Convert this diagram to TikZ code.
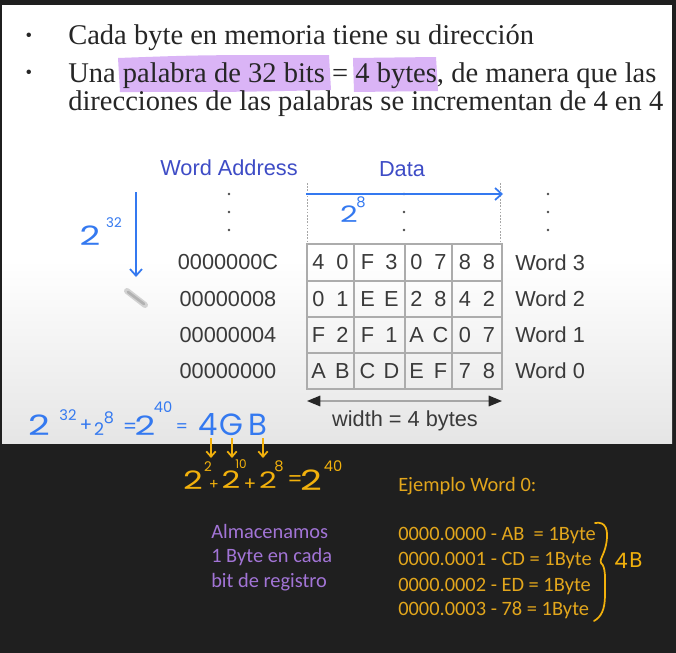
\documentclass[tikz,border=0pt]{standalone}
\usepackage{fontspec}
\setmainfont{Liberation Serif}
\newfontfamily\arialf{Liberation Sans}
\newfontfamily\calf{Carlito}
\newfontfamily\handf{Poppins}
\usetikzlibrary{arrows.meta,calc}
\definecolor{darkbg}{HTML}{1F1F1F}
\definecolor{hl}{HTML}{DAB4F6}
\definecolor{slidetext}{HTML}{262626}
\definecolor{tabtext}{HTML}{3A3A3A}
\definecolor{headblue}{HTML}{3E4CC6}
\definecolor{blueink}{HTML}{3479F0}
\definecolor{orink}{HTML}{F2B10C}
\definecolor{ortext}{HTML}{E2A61C}
\definecolor{purtext}{HTML}{A274D6}
\newcommand\fsz[1]{\fontsize{#1}{#1}\selectfont}
\tikzset{
  serif/.style={font=\fsz{21.4}, text=slidetext, inner sep=0, anchor=base west},
  sans/.style={font=\arialf\fsz{16.3}, text=tabtext, inner sep=0},
  head/.style={font=\arialf\fsz{16.3}, text=headblue, inner sep=0},
  grid/.style={draw=gray!65, line width=0.9},
  dotline/.style={draw=gray!70, line width=0.6, dash pattern=on 1.2pt off 1.2pt},
  dotmark/.style={circle, fill=black!70, inner sep=0, minimum size=2.2pt},
  hwb/.style={text=blueink, inner sep=0},
  hwo/.style={text=orink, inner sep=0},
  wide/.style={xscale=1.35},
  bink/.style={draw=blueink, line width=1.3, -{Straight Barb[length=5pt,width=9pt]}},
  oink/.style={draw=orink, line width=1.3, -{Straight Barb[length=4pt,width=7pt]}},
  caltext/.style={font=\calf\fsz{15.3}, inner sep=0, anchor=base west},
}
\newcommand\cellab[5]{\node[sans] (#1) at (#2,#3) {\makebox[18pt]{#4}\makebox[18pt]{#5}};}
\begin{document}
\begin{tikzpicture}[x=0.75pt,y=-0.75pt]
\useasboundingbox (0,0) rectangle (676,653);
\fill[darkbg] (0,0) rectangle (676,653);
\fill[white] (2,5) rectangle (672,261);
\shade[top color=white,bottom color=black!10] (2,260) rectangle (672,443);

% highlights
\fill[hl] (118,58) .. controls (200,55) .. (329,55) -- (331,90) .. controls (240,92) .. (120,92) -- cycle;
\fill[hl] (353,58) -- (436,57) -- (438,91) -- (354,92) -- cycle;

% slide text
\node[font=\fsz{14}, text=slidetext, inner sep=0] (bul1) at (29,37) {•};
\node[font=\fsz{14}, text=slidetext, inner sep=0] (bul2) at (29,74) {•};
\node[serif] (line1) at (68,45) {Cada byte en memoria tiene su dirección};
\node[serif] (line2) at (68,82) {Una palabra de 32 bits = 4 bytes, de manera que las};
\node[serif] (line3) at (68,110) {direcciones de las palabras se incrementan de 4 en 4};

% headers
\node[head] (wa) at (229,168) {Word Address};
\node[head] (data) at (402,169) {Data};

% dots
\foreach \x/\n in {229/a,404/d,548/r}{
  \foreach \y/\m in {194/1,212/2,230/3}{
    \node[dotmark] (dot\n\m) at (\x,\y) {};
  }
}
\draw[dotline] (307,183) -- (307,244);
\draw[dotline] (500,183) -- (500,244);

% table
\draw[grid] (307,244) rectangle (502,389);
\foreach \y in {281,317,353} \draw[grid] (307,\y) -- (502,\y);
\foreach \x in {354,405,452} \draw[grid] (\x,244) -- (\x,389);

\cellab{c30}{330.5}{262.5}{4}{0}
\cellab{c31}{379.5}{262.5}{F}{3}
\cellab{c32}{428.5}{262.5}{0}{7}
\cellab{c33}{477}{262.5}{8}{8}
\cellab{c20}{330.5}{299}{0}{1}
\cellab{c21}{379.5}{299}{E}{E}
\cellab{c22}{428.5}{299}{2}{8}
\cellab{c23}{477}{299}{4}{2}
\cellab{c10}{330.5}{335}{F}{2}
\cellab{c11}{379.5}{335}{F}{1}
\cellab{c12}{428.5}{335}{A}{C}
\cellab{c13}{477}{335}{0}{7}
\cellab{c00}{330.5}{371}{A}{B}
\cellab{c01}{379.5}{371}{C}{D}
\cellab{c02}{428.5}{371}{E}{F}
\cellab{c03}{477}{371}{7}{8}

\node[sans] (a3) at (228,262.5) {0000000C};
\node[sans] (a2) at (228,299) {00000008};
\node[sans] (a1) at (228,335) {00000004};
\node[sans] (a0) at (228,371) {00000000};
\node[sans, anchor=west] (w3) at (515,262.5) {Word 3};
\node[sans, anchor=west] (w2) at (515,299) {Word 2};
\node[sans, anchor=west] (w1) at (515,335) {Word 1};
\node[sans, anchor=west] (w0) at (515,371) {Word 0};

% width arrow
\coordinate (wl) at (307,401);
\coordinate (wr) at (502,401);
\draw[draw=gray!70, line width=0.9, {Triangle[length=10pt,width=8pt,color=black!85]}-{Triangle[length=10pt,width=8pt,color=black!85]}] (wl) -- (wr);
\node[sans] (wlab) at (405,421) {width = 4 bytes};

% pencil cursor
\draw[gray!35, line width=4.5, line cap=round] (127,291) -- (145,305);
\draw[gray!60, line width=2, line cap=round] (128,292) -- (144,304);

% blue handwriting
\coordinate (va1) at (136,192);
\coordinate (va2) at (136,277);
\draw[bink] (va1) -- (va2);
\coordinate (ha1) at (306,194);
\coordinate (ha2) at (503,194);
\draw[bink] (ha1) -- (ha2);
\node[hwb, wide, font=\handf\fsz{20}] (l2) at (90,236) {2};
\node[hwb, font=\handf\fsz{10}] (l32) at (114,223) {32};
\node[hwb, wide, font=\handf\fsz{17}] (t2) at (349,214) {2};
\node[hwb, font=\handf\fsz{11}] (t8) at (361,202) {8};

\node[hwb, wide, font=\handf\fsz{21}] (b2a) at (39,425) {2};
\node[hwb, font=\handf\fsz{11}] (b32) at (68,415) {32};
\node[hwb, font=\handf\fsz{14}] (bp) at (86,426) {+};
\node[hwb, font=\handf\fsz{13}] (b2b) at (99,429) {2};
\node[hwb, font=\handf\fsz{12}] (b8) at (109,418) {8};
\node[hwb, font=\handf\fsz{15}] (be1) at (130,428) {=};
\node[hwb, wide, font=\handf\fsz{20}] (b2c) at (145,426) {2};
\node[hwb, font=\handf\fsz{11}] (b40) at (163,407) {40};
\node[hwb, font=\handf\fsz{13}] (be2) at (182,428) {=};
\node[hwb, font=\handf\fsz{23}] (b4) at (208,425) {4};
\node[hwb, font=\handf\fsz{23}] (bG) at (231,425) {G};
\node[hwb, font=\handf\fsz{23}] (bB) at (258,425) {B};

% orange handwriting
\coordinate (oa1) at (211,438);
\coordinate (ob1) at (211,458);
\coordinate (oa2) at (232,438);
\coordinate (ob2) at (232,458);
\coordinate (oa3) at (263,438);
\coordinate (ob3) at (263,458);
\draw[oink] (oa1) -- (ob1);
\draw[oink] (oa2) -- (ob2);
\draw[oink] (oa3) -- (ob3);

\node[hwo, wide, font=\handf\fsz{19}] (o2a) at (193,480) {2};
\node[hwo, font=\handf\fsz{10}] (o2s) at (208,467) {2};
\node[hwo, font=\handf\fsz{11}] (op1) at (214,485) {+};
\node[hwo, wide, font=\handf\fsz{18}] (o2b) at (231,480) {2};
\node[hwo, font=\handf\fsz{9}] (o10) at (241,464) {10};
\node[hwo, font=\handf\fsz{14}] (op2) at (250,485) {+};
\node[hwo, wide, font=\handf\fsz{17}] (o2c) at (268,480) {2};
\node[hwo, font=\handf\fsz{11}] (o8) at (279,466) {8};
\node[hwo, font=\handf\fsz{16}] (oeq) at (295,481) {=};
\node[hwo, wide, font=\handf\fsz{21}] (o2d) at (311,480) {2};
\node[hwo, font=\handf\fsz{11}] (o40) at (333,466) {40};

% purple text
\node[caltext, text=purtext] (p1) at (211,538) {Almacenamos};
\node[caltext, text=purtext] (p2) at (211,562) {1 Byte en cada};
\node[caltext, text=purtext] (p3) at (211,587) {bit de registro};

% orange text
\node[caltext, text=ortext] (ej) at (398,491) {Ejemplo Word 0:};
\node[caltext, text=ortext] (r0) at (398,540) {0000.0000 - AB\ \ = 1Byte};
\node[caltext, text=ortext] (r1) at (398,565) {0000.0001 - CD = 1Byte};
\node[caltext, text=ortext] (r2) at (398,591) {0000.0002 - ED = 1Byte};
\node[caltext, text=ortext] (r3) at (398,615) {0000.0003 - 78 = 1Byte};

% brace
\draw[orink, line width=1.3, line cap=round] (595,523) .. controls (606,521) and (609,530) .. (606,545) .. controls (604,555) and (599,560) .. (601,563) .. controls (606,567) and (605,578) .. (605,595) .. controls (605,610) and (601,617) .. (594,621);
\node[hwo, font=\handf\fsz{16}] (f4) at (621,561) {4};
\node[hwo, font=\handf\fsz{16}] (fB) at (636,560) {B};
\end{tikzpicture}
\end{document}
